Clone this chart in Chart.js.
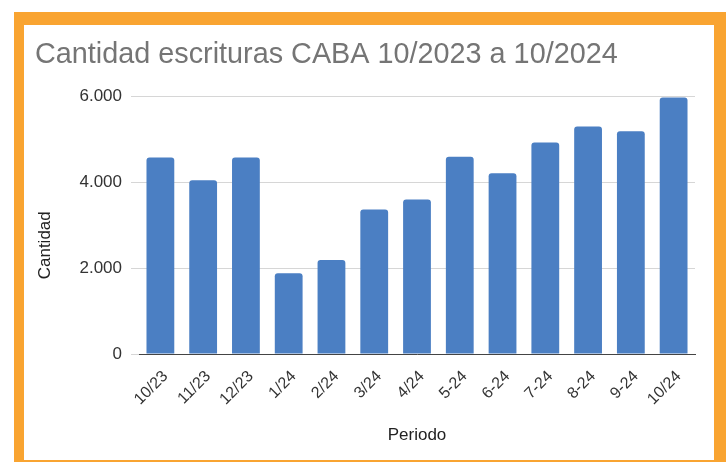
<!DOCTYPE html>
<html>
<head>
<meta charset="utf-8">
<script src="https://cdn.jsdelivr.net/npm/chart.js@4"></script>
<style>
  body { margin: 0; background: #fff; }
  #marco {
    position: absolute; left: 14px; top: 12px;
    width: 690px; height: 435px;
    border-style: solid; border-color: #f9a431;
    border-width: 13px 12px 2px 10px;
    background: #fff;
  }
  canvas { display: block; }
</style>
</head>
<body>
<div id="marco"><canvas id="escrituras" width="690" height="435"></canvas></div>
<script>
// Datos
const periodos = ['10/23', '11/23', '12/23', '1/24', '2/24', '3/24', '4/24', '5-24', '6-24', '7-24', '8-24', '9-24', '10/24'];
const cantidades = [4580, 4050, 4580, 1880, 2190, 3370, 3600, 4600, 4210, 4930, 5300, 5190, 5980];
const ticksY = [0, 2000, 4000, 6000];

const fuente = "'Liberation Sans', Arial, sans-serif";

// formato con punto de miles
function miles(v) {
  return String(v).replace(/\B(?=(\d{3})+(?!\d))/g, '.');
}

// titulo del eje Y, un poco mas abajo que el centro (como en Sheets)
const tituloEjeY = {
  id: 'tituloEjeY',
  afterDraw(chart) {
    const { ctx, chartArea, scales } = chart;
    ctx.save();
    ctx.translate(scales.y.left + 10, (chartArea.top + chartArea.bottom) / 2 + 20);
    ctx.rotate(-Math.PI / 2);
    ctx.fillStyle = '#222';
    ctx.font = "17px " + fuente;
    ctx.textAlign = 'center';
    ctx.textBaseline = 'middle';
    ctx.fillText('Cantidad', 0, 0);
    ctx.restore();
  }
};

function cargarGrafico() {
  const ctx = document.getElementById('escrituras').getContext('2d');
  new Chart(ctx, {
    type: 'bar',
    data: {
      labels: periodos,
      datasets: [{
        label: 'Cantidad',
        data: cantidades,
        backgroundColor: '#4b7fc3',
        borderRadius: { topLeft: 3, topRight: 3 },
        borderSkipped: false,
        categoryPercentage: 1,
        barPercentage: 0.65,
      }],
    },
    plugins: [tituloEjeY],
    options: {
      responsive: false,
      animation: false,
      layout: { padding: { left: 11, right: 19, top: 0, bottom: 14 } },
      plugins: {
        legend: { display: false },
        tooltip: { enabled: false },
        title: {
          display: true,
          text: 'Cantidad escrituras CABA 10/2023 a 10/2024',
          align: 'start',
          color: '#757575',
          font: { family: fuente, size: 28.8, weight: 'normal' },
          padding: { top: 13, bottom: 24 },
        },
      },
      scales: {
        x: {
          grid: { display: false },
          border: { color: '#444', width: 1 },
          ticks: {
            color: '#333',
            font: { family: fuente, size: 16 },
            minRotation: 45, maxRotation: 45,
            padding: 5,
            labelOffset: 5,
          },
          title: {
            display: true,
            text: 'Periodo',
            color: '#222',
            font: { family: fuente, size: 17 },
            padding: { top: 0, bottom: 0 },
          },
          afterFit: scale => { scale.height = 92; },
        },
        y: {
          min: 0,
          max: 6000,
          afterBuildTicks: scale => { scale.ticks = ticksY.map(v => ({ value: v })); },
          grid: { color: '#d6d6d6', tickLength: 8, tickColor: '#d6d6d6' },
          border: { display: false },
          ticks: {
            color: '#333',
            font: { family: fuente, size: 17 },
            padding: 9,
            callback: v => miles(v),
          },
          title: { display: false },
          afterFit: scale => { scale.width = 104; },
        },
      },
    },
  });
}

cargarGrafico();
</script>
</body>
</html>
